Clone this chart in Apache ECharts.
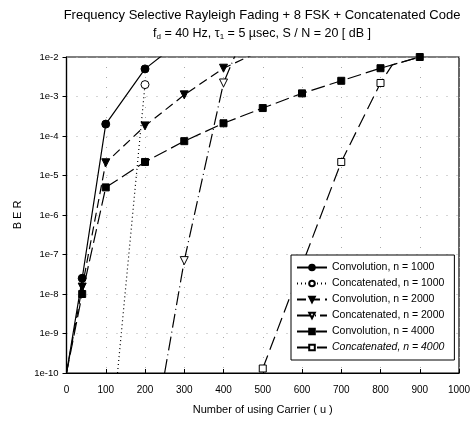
<!DOCTYPE html>
<html>
<head>
<meta charset="utf-8">
<script src="https://cdn.jsdelivr.net/npm/echarts@6/dist/echarts.min.js"></script>
<style>html,body{margin:0;padding:0;background:#fff}#c{width:475px;height:432px}</style>
</head>
<body>
<div id="c"></div>
<script>
var seriesNames = [
  'Convolution, n = 1000',
  'Concatenated, n = 1000',
  'Convolution, n = 2000',
  'Concatenated, n = 2000',
  'Convolution, n = 4000',
  'Concatenated, n = 4000'
];
var conv1000 = [[0, 1e-10], [40, 2.5e-8], [100, 2e-4], [200, 5e-3], [300, 3e-2]];
var conc1000 = [[130, 1e-10], [200, 2e-3]];
var conv2000 = [[0, 1e-10], [40, 1.5e-8], [100, 2.1e-5], [200, 1.8e-4], [300, 1.1e-3], [400, 5.2e-3], [500, 1.5e-2]];
var conc2000 = [[250, 1e-10], [300, 7e-8], [400, 2.2e-3], [500, 0.5]];
var conv4000 = [[0, 1e-10], [40, 1e-8], [100, 5e-6], [200, 2.2e-5], [300, 7.4e-5], [400, 2.1e-4], [500, 5.1e-4], [600, 1.2e-3], [700, 2.5e-3], [800, 5.2e-3], [900, 1e-2]];
var conc4000 = [[500, 1.3e-10], [700, 2.2e-5], [800, 2.2e-3], [830, 6.3e-3], [900, 1e-2]];
// indices of points drawn without a marker (line end points at axis edges / joins)
var noMarker = {
  conv1000: [0], conc1000: [0], conv2000: [0], conc2000: [0], conv4000: [0], conc4000: [3, 4]
};
var xTicks = [0, 100, 200, 300, 400, 500, 600, 700, 800, 900, 1000];
var yTickLabels = ['1e-10', '1e-9', '1e-8', '1e-7', '1e-6', '1e-5', '1e-4', '1e-3', '1e-2'];

var FONT = '"Liberation Sans", Arial, sans-serif';
var chart = echarts.init(document.getElementById('c'), null, {renderer: 'canvas'});

function pts(data, skip) {
  return data.map(function (p, i) {
    return skip.indexOf(i) >= 0 ? {value: p, symbol: 'none'} : {value: p};
  });
}

function mk(name, data, skip, symbol, filled, dash, rotate) {
  return {
    name: name, type: 'line', data: pts(data, skip),
    symbol: symbol, symbolSize: symbol === 'rect' ? 7 : 8, symbolRotate: rotate || 0,
    clip: true, animation: false,
    lineStyle: {color: '#000', width: 1.2, type: dash},
    itemStyle: {color: filled ? '#000' : '#fff', borderColor: '#000', borderWidth: 1}
  };
}

var option = {
  backgroundColor: '#fff',
  animation: false,
  title: [
    {text: 'Frequency Selective Rayleigh Fading + 8 FSK + Concatenated Code', left: 257, top: 4, textAlign: 'center',
     textStyle: {fontFamily: FONT, fontWeight: 'normal', fontSize: 13, color: '#000'}},
    {text: '{n|f}{s|d}{n| = 40 Hz, τ}{s|1}{n| = 5 µsec, S / N = 20 [ dB ]}', left: 257, top: 22, textAlign: 'center',
     textStyle: {fontWeight: 'normal', rich: {
       n: {fontFamily: FONT, fontSize: 12.5, fontWeight: 'normal', color: '#000'},
       s: {fontFamily: FONT, fontSize: 8, fontWeight: 'normal', color: '#000', padding: [6, 0, 0, 0]}
     }}}
  ],
  grid: {left: 66.5, right: 16, top: 57, bottom: 59, containLabel: false,
         show: true, borderColor: '#000', borderWidth: 1.2, backgroundColor: 'transparent'},
  xAxis: {
    type: 'value', min: 0, max: 1000, interval: 100,
    name: 'Number of using Carrier ( u )', nameLocation: 'middle', nameGap: 31,
    nameTextStyle: {fontFamily: FONT, fontSize: 11, color: '#000'},
    axisLine: {lineStyle: {color: '#000', width: 1.2}},
    axisTick: {inside: true, length: 4, lineStyle: {color: '#000'}},
    axisLabel: {fontFamily: FONT, fontSize: 10, color: '#000', margin: 12,
      formatter: function (v) { return xTicks.indexOf(v) >= 0 ? String(v) : ''; }},
    splitLine: {show: true, lineStyle: {color: '#aaa', width: 1, type: [1, 9]}}
  },
  yAxis: {
    type: 'log', logBase: 10, min: 1e-10, max: 1e-2,
    name: 'B E R', nameLocation: 'middle', nameGap: 34, nameRotate: 90,
    nameTextStyle: {fontFamily: FONT, fontSize: 11, color: '#000'},
    axisLine: {show: true, lineStyle: {color: '#000', width: 1.2}},
    axisTick: {show: true, inside: false, length: 4, lineStyle: {color: '#000'}},
    axisLabel: {fontFamily: FONT, fontSize: 9.5, color: '#000', margin: 8,
      formatter: function (v) { var e = Math.round(Math.log(v) / Math.LN10); return yTickLabels[e + 10]; }},
    splitLine: {show: true, lineStyle: {color: '#aaa', width: 1, type: [1, 9]}}
  },
  legend: {
    orient: 'vertical', left: 291, top: 255, width: 163,
    backgroundColor: '#fff', borderColor: '#000', borderWidth: 1, borderRadius: 0,
    padding: [7, 10, 7, 5], itemGap: 5, itemWidth: 30, itemHeight: 7,
    textStyle: {fontFamily: FONT, fontSize: 10.5, color: '#000'},
    data: [
      {name: seriesNames[0]}, {name: seriesNames[1]}, {name: seriesNames[2]},
      {name: seriesNames[3]}, {name: seriesNames[4]},
      {name: seriesNames[5], textStyle: {fontStyle: 'italic'}}
    ]
  },
  series: [
    mk(seriesNames[0], conv1000, noMarker.conv1000, 'circle', true, 'solid'),
    mk(seriesNames[1], conc1000, noMarker.conc1000, 'circle', false, [1, 3]),
    mk(seriesNames[2], conv2000, noMarker.conv2000, 'triangle', true, [9, 5], 180),
    mk(seriesNames[3], conc2000, noMarker.conc2000, 'triangle', false, [14, 4, 1, 4], 180),
    mk(seriesNames[4], conv4000, noMarker.conv4000, 'rect', true, [14, 5]),
    mk(seriesNames[5], conc4000, noMarker.conc4000, 'rect', false, [14, 6])
  ]
};
chart.setOption(option);
</script>
</body>
</html>
